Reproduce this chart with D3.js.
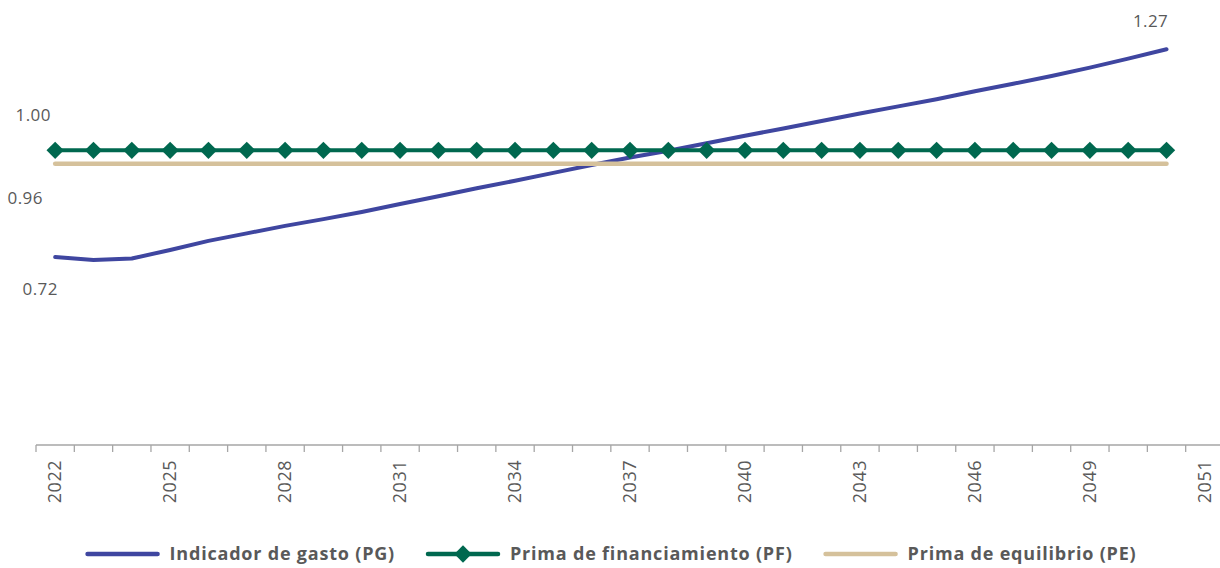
<!DOCTYPE html>
<html>
<head>
<meta charset="utf-8">
<script src="https://cdn.jsdelivr.net/npm/d3@7"></script>
<style>
  body { margin: 0; background: #fff; }
  svg { display: block; font-family: "Open Sans", sans-serif; }
</style>
</head>
<body>
<svg id="chart" width="1220" height="568"></svg>
<script>
// years with data
const years = ["2022","2023","2024","2025","2026","2027","2028","2029","2030","2031",
  "2032","2033","2034","2035","2036","2037","2038","2039","2040","2041",
  "2042","2043","2044","2045","2046","2047","2048","2049","2050","2051"];
// the original axis has one extra empty slot at the end
const axisCategories = years.concat(["2052"]);
const tickCategories = ["2022","2025","2028","2031","2034","2037","2040","2043","2046","2049","2052"];
const tickLabels = ["2022","2025","2028","2031","2034","2037","2040","2043","2046","2049","2051"];

const pg = [0.716, 0.708, 0.712, 0.735, 0.759, 0.779, 0.799, 0.817, 0.836, 0.857,
  0.878, 0.899, 0.919, 0.940, 0.961, 0.981, 0.999, 1.019, 1.039, 1.058,
  1.078, 1.098, 1.117, 1.136, 1.157, 1.177, 1.198, 1.220, 1.244, 1.269];
const pf = [1.00, 1.00, 1.00, 1.00, 1.00, 1.00, 1.00, 1.00, 1.00, 1.00,
  1.00, 1.00, 1.00, 1.00, 1.00, 1.00, 1.00, 1.00, 1.00, 1.00,
  1.00, 1.00, 1.00, 1.00, 1.00, 1.00, 1.00, 1.00, 1.00, 1.00];
const pe = [0.964, 0.964, 0.964, 0.964, 0.964, 0.964, 0.964, 0.964, 0.964, 0.964,
  0.964, 0.964, 0.964, 0.964, 0.964, 0.964, 0.964, 0.964, 0.964, 0.964,
  0.964, 0.964, 0.964, 0.964, 0.964, 0.964, 0.964, 0.964, 0.964, 0.964];

const seriesNames = ["Indicador de gasto (PG)", "Prima de financiamiento (PF)", "Prima de equilibrio (PE)"];
const colors = ["#3f46a0", "#00684f", "#d5c19b"];

const svg = d3.select("#chart");
const textColor = "#595959";
const axisY = 445;

const x = d3.scaleBand().domain(axisCategories).range([36, 1224]);
const y = d3.scaleLinear().domain([0.2, 1.4]).range([451, 0]);
const cx = c => x(c) + x.bandwidth() / 2;

// x axis
const axis = svg.append("g");
axis.append("line")
  .attr("x1", 36).attr("x2", 1220)
  .attr("y1", axisY).attr("y2", axisY)
  .attr("stroke", "#a6a6a6").attr("stroke-width", 1.3);
axis.selectAll("line.tick")
  .data(axisCategories)
  .enter().append("line")
  .attr("class", "tick")
  .attr("x1", d => x(d)).attr("x2", d => x(d))
  .attr("y1", axisY).attr("y2", axisY + 7)
  .attr("stroke", "#a6a6a6").attr("stroke-width", 1.3);
axis.selectAll("text")
  .data(tickCategories)
  .enter().append("text")
  .attr("transform", d => "translate(" + cx(d) + "," + (axisY + 15) + ") rotate(-90)")
  .attr("text-anchor", "end")
  .attr("dy", "0.35em")
  .attr("font-size", "18px")
  .attr("letter-spacing", "0.5px")
  .attr("fill", textColor)
  .text((d, i) => tickLabels[i]);

// lines, drawn in series order
const line = d3.line()
  .x((d, i) => cx(years[i]))
  .y(d => y(d));

svg.append("path").datum(pg)
  .attr("d", line).attr("fill", "none")
  .attr("stroke", colors[0]).attr("stroke-width", 4)
  .attr("stroke-linecap", "round").attr("stroke-linejoin", "round");

svg.append("path").datum(pf)
  .attr("d", line).attr("fill", "none")
  .attr("stroke", colors[1]).attr("stroke-width", 4);

const diamond = d3.symbol().type(d3.symbolSquare).size(150);
svg.selectAll("path.pf-marker")
  .data(pf)
  .enter().append("path")
  .attr("class", "pf-marker")
  .attr("d", diamond)
  .attr("transform", (d, i) => "translate(" + cx(years[i]) + "," + y(d) + ") rotate(45)")
  .attr("fill", colors[1]);

svg.append("path").datum(pe)
  .attr("d", line).attr("fill", "none")
  .attr("stroke", colors[2]).attr("stroke-width", 4.5)
  .attr("stroke-linecap", "round");

// data labels
const fmt = d3.format(".2f");
const last = years.length - 1;
const dataLabels = [
  { v: pf[0], x: cx(years[0]) - 22, y: y(pf[0]) - 29 },
  { v: pe[0], x: cx(years[0]) - 30, y: y(pe[0]) + 40 },
  { v: pg[0], x: cx(years[0]) - 15, y: y(pg[0]) + 38 },
  { v: pg[last], x: cx(years[last]) - 16, y: y(pg[last]) - 22 }
];
svg.selectAll("text.dl")
  .data(dataLabels)
  .enter().append("text")
  .attr("class", "dl")
  .attr("x", d => d.x).attr("y", d => d.y)
  .attr("text-anchor", "middle")
  .attr("font-size", "17px")
  .attr("letter-spacing", "0.4px")
  .attr("fill", textColor)
  .text(d => fmt(d.v));

// legend
const legend = svg.append("g");
const legY = 554;
let lx = 0;
seriesNames.forEach((name, i) => {
  const g = legend.append("g");
  g.append("line")
    .attr("x1", 0).attr("x2", 70).attr("y1", legY).attr("y2", legY)
    .attr("stroke", colors[i]).attr("stroke-width", 4.5)
    .attr("stroke-linecap", "round");
  if (i === 1) {
    g.append("path")
      .attr("d", diamond)
      .attr("transform", "translate(35," + legY + ") rotate(45)")
      .attr("fill", colors[1]);
  }
  const t = g.append("text")
    .attr("x", 82).attr("y", legY).attr("dy", "0.35em")
    .attr("font-size", "18px").attr("font-weight", "bold")
    .attr("letter-spacing", "0.8px")
    .attr("fill", textColor)
    .text(name);
  const w = 82 + t.node().getComputedTextLength();
  g.attr("transform", "translate(" + lx + ",0)");
  lx += w + 33;
});
const legendWidth = lx - 33;
legend.attr("transform", "translate(" + (612 - legendWidth / 2) + ",0)");
</script>
</body>
</html>
